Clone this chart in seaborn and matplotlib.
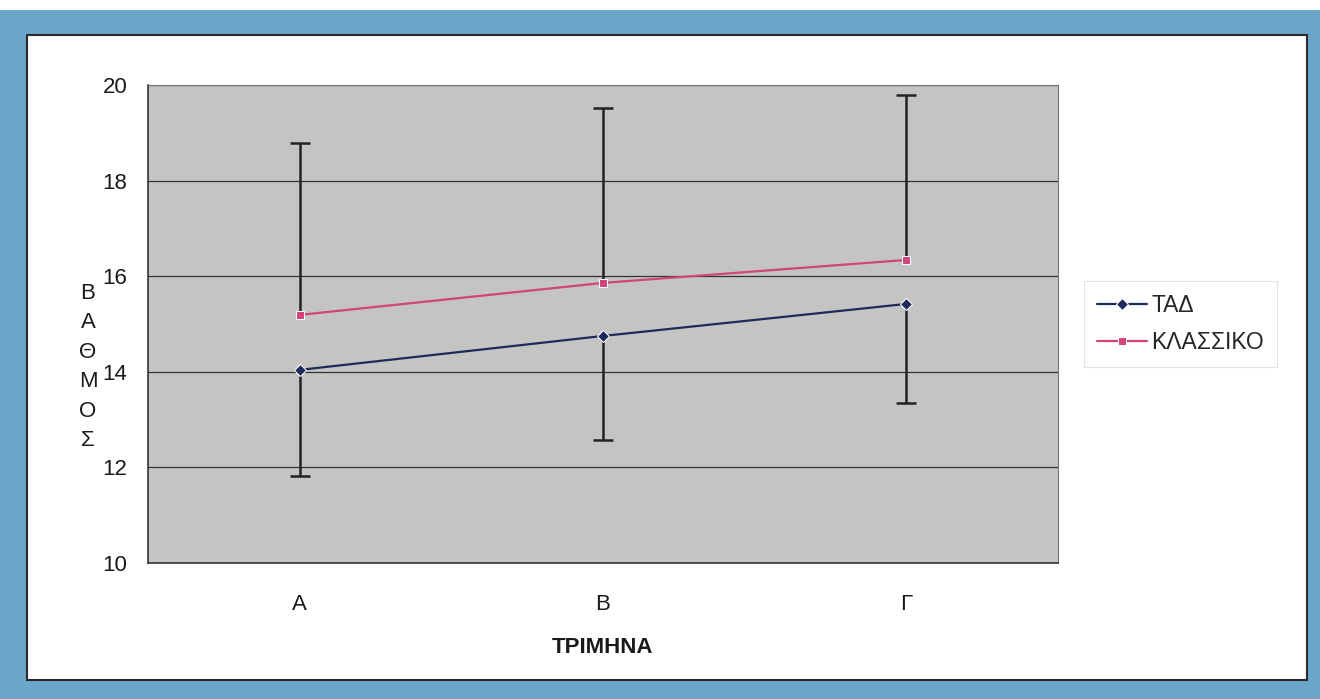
import matplotlib
matplotlib.use("Agg")
import matplotlib.pyplot as plt
import numpy as np
import pandas as pd
import seaborn as sns
from matplotlib.patches import Rectangle

# data
trimina = ["Α", "Β", "Γ"]
tad_mean = [14.04, 14.75, 15.42]
klassiko_mean = [15.19, 15.86, 16.34]
tad_low = [11.83, 12.57, 13.35]        # lower end of the TAD bars
klassiko_high = [18.79, 19.52, 19.79]  # upper end of the KLASSIKO bars

df = pd.DataFrame({
    "ΤΡΙΜΗΝΑ": trimina * 2,
    "ΒΑΘΜΟΣ": tad_mean + klassiko_mean,
    "ομάδα": ["ΤΑΔ"] * 3 + ["ΚΛΑΣΣΙΚΟ"] * 3,
})

sns.set_theme(style="white")
plt.rcParams["font.family"] = ["Liberation Sans", "DejaVu Sans"]

colors = {"ΤΑΔ": "#1e2a5c", "ΚΛΑΣΣΙΚΟ": "#d3457a"}

fig = plt.figure(figsize=(13.2, 6.99), dpi=100)
fig.patch.set_facecolor("#6aa6c9")
# white page inside the blue scan border
fig.patches.append(Rectangle((27 / 1320, 1 - 680 / 699), (1307 - 27) / 1320, (680 - 35) / 699,
                             transform=fig.transFigure, facecolor="white",
                             edgecolor="#2a2a2a", linewidth=1.5, zorder=-10))
fig.patches.append(Rectangle((0, 1 - 10 / 699), 1, 10 / 699, transform=fig.transFigure,
                             facecolor="white", edgecolor="none", zorder=-10))

ax = fig.add_axes([148 / 1320, 1 - 563 / 699, (1058 - 148) / 1320, (563 - 85) / 699])
ax.set_facecolor("#c4c5c2")

sns.lineplot(data=df, x="ΤΡΙΜΗΝΑ", y="ΒΑΘΜΟΣ", hue="ομάδα", style="ομάδα",
             markers={"ΤΑΔ": "D", "ΚΛΑΣΣΙΚΟ": "s"}, dashes=False, palette=colors,
             markersize=6, linewidth=1.6, ax=ax, zorder=4)

tad_err = [np.array(tad_mean) - np.array(tad_low), np.zeros(3)]
kl_err = [np.zeros(3), np.array(klassiko_high) - np.array(klassiko_mean)]
eb1 = ax.errorbar(trimina, tad_mean, yerr=tad_err, fmt="none", ecolor="#222222",
                  elinewidth=1.8, capsize=7, capthick=1.8, zorder=3)
eb2 = ax.errorbar(trimina, klassiko_mean, yerr=kl_err, fmt="none", ecolor="#222222",
                  elinewidth=1.8, capsize=7, capthick=1.8, zorder=3)
# only the far ends carry a cap
eb1[1][1].set_visible(False)
eb2[1][0].set_visible(False)

ax.set_xlim(-0.5, 2.5)
ax.set_ylim(10, 20)
ax.set_yticks([10, 12, 14, 16, 18, 20])
ax.yaxis.grid(True, color="#333333", linewidth=0.9)
ax.set_axisbelow(True)

ax.set_xticks([0.5, 1.5], minor=True)
ax.tick_params(axis="x", which="major", length=0, labelsize=16, pad=22, colors="#1a1a1a")
ax.tick_params(axis="x", which="minor", length=4, width=0.8, color="#555555")
ax.tick_params(axis="y", length=5, width=0.9, labelsize=16, pad=10, colors="#1a1a1a")

for side in ["left", "bottom"]:
    ax.spines[side].set_color("#333333")
    ax.spines[side].set_linewidth(1.2)
for side in ["top", "right"]:
    ax.spines[side].set_color("#777777")
    ax.spines[side].set_linewidth(0.8)
    ax.spines[side].set_linestyle((0, (2, 1)))

ax.set_xlabel("ΤΡΙΜΗΝΑ", fontsize=16, fontweight="bold", labelpad=16, color="#1a1a1a")
ax.set_ylabel("Β\nΑ\nΘ\nΜ\nΟ\nΣ", rotation=0, fontsize=16, linespacing=1.53,
              va="center", color="#1a1a1a")
ax.yaxis.set_label_coords(-0.066, 0.41)

leg = ax.legend(loc="center left", bbox_to_anchor=(1.016, 0.5), frameon=True,
                fontsize=16.5, handlelength=2.2, handletextpad=0.2, borderpad=0.55,
                labelspacing=0.65, fancybox=False)
leg.get_frame().set_edgecolor("#dddddd")
leg.get_frame().set_linewidth(0.8)

fig.savefig("out.png", dpi=100, facecolor=fig.get_facecolor())
